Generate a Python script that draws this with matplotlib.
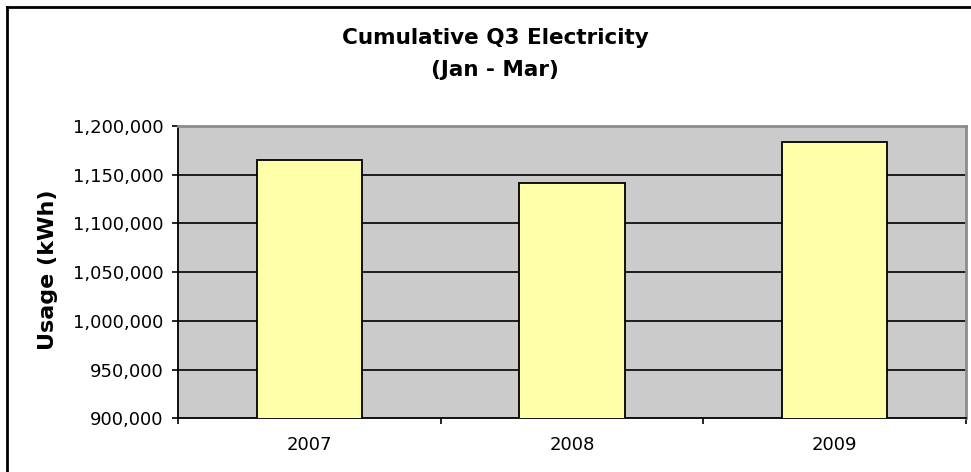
import numpy as np
import matplotlib.pyplot as plt
from matplotlib.lines import Line2D
from matplotlib.ticker import FuncFormatter

plt.rcParams['font.family'] = ['DejaVu Sans']

# values
years = ['2007', '2008', '2009']
usage = [1165000, 1141000, 1184000]
y_ticks = [900000, 950000, 1000000, 1050000, 1100000, 1150000, 1200000]

fig = plt.figure(figsize=(9.71, 4.72), dpi=100)
ax = fig.add_axes([178 / 971, 1 - 418.3 / 472, 788 / 971, 292.3 / 472])

x = np.arange(len(years))
ax.set_facecolor('#cbcbcb')
ax.bar(x, usage, width=0.4, color='#ffffaa', edgecolor='black', linewidth=1.3, zorder=3)

ax.set_xlim(-0.5, 2.5)
ax.set_ylim(900000, 1200000)
ax.set_yticks(y_ticks)
ax.yaxis.set_major_formatter(FuncFormatter(lambda v, p: f'{int(v):,}'))
for yv in y_ticks[1:-1]:
    ax.axhline(yv, color='black', linewidth=1.2, zorder=1)

# category labels centred, ticks between categories
ax.set_xticks(x)
ax.set_xticklabels(years)
ax.tick_params(axis='x', which='major', length=0, labelsize=13, pad=13)
ax.set_xticks([-0.5, 0.5, 1.5, 2.5], minor=True)
ax.tick_params(axis='x', which='minor', length=4, width=1.2, direction='out')
ax.tick_params(axis='y', length=4.5, width=1.2, direction='out', labelsize=13, pad=6)

for s in ['left', 'bottom']:
    ax.spines[s].set_color('black')
    ax.spines[s].set_linewidth(1.3)
for s in ['top', 'right']:
    ax.spines[s].set_color('#8c8c8c')
    ax.spines[s].set_linewidth(2)

ax.set_ylabel('Usage (kWh)', fontsize=16, fontweight='bold')
ax.yaxis.set_label_coords(-0.152, 0.507)
fig.text(0.51, 1 - 38 / 472, 'Cumulative Q3 Electricity', ha='center', va='center',
         fontsize=15.5, fontweight='bold')
fig.text(0.51, 1 - 70 / 472, '(Jan - Mar)', ha='center', va='center',
         fontsize=15.5, fontweight='bold')

# outer chart border (cut off at right and bottom)
fig.add_artist(Line2D([7 / 971, 7 / 971], [0, 1 - 7 / 472], transform=fig.transFigure,
                      color='black', linewidth=2))
fig.add_artist(Line2D([7 / 971, 1], [1 - 7 / 472, 1 - 7 / 472], transform=fig.transFigure,
                      color='black', linewidth=2))

fig.savefig('out.png', dpi=100)
